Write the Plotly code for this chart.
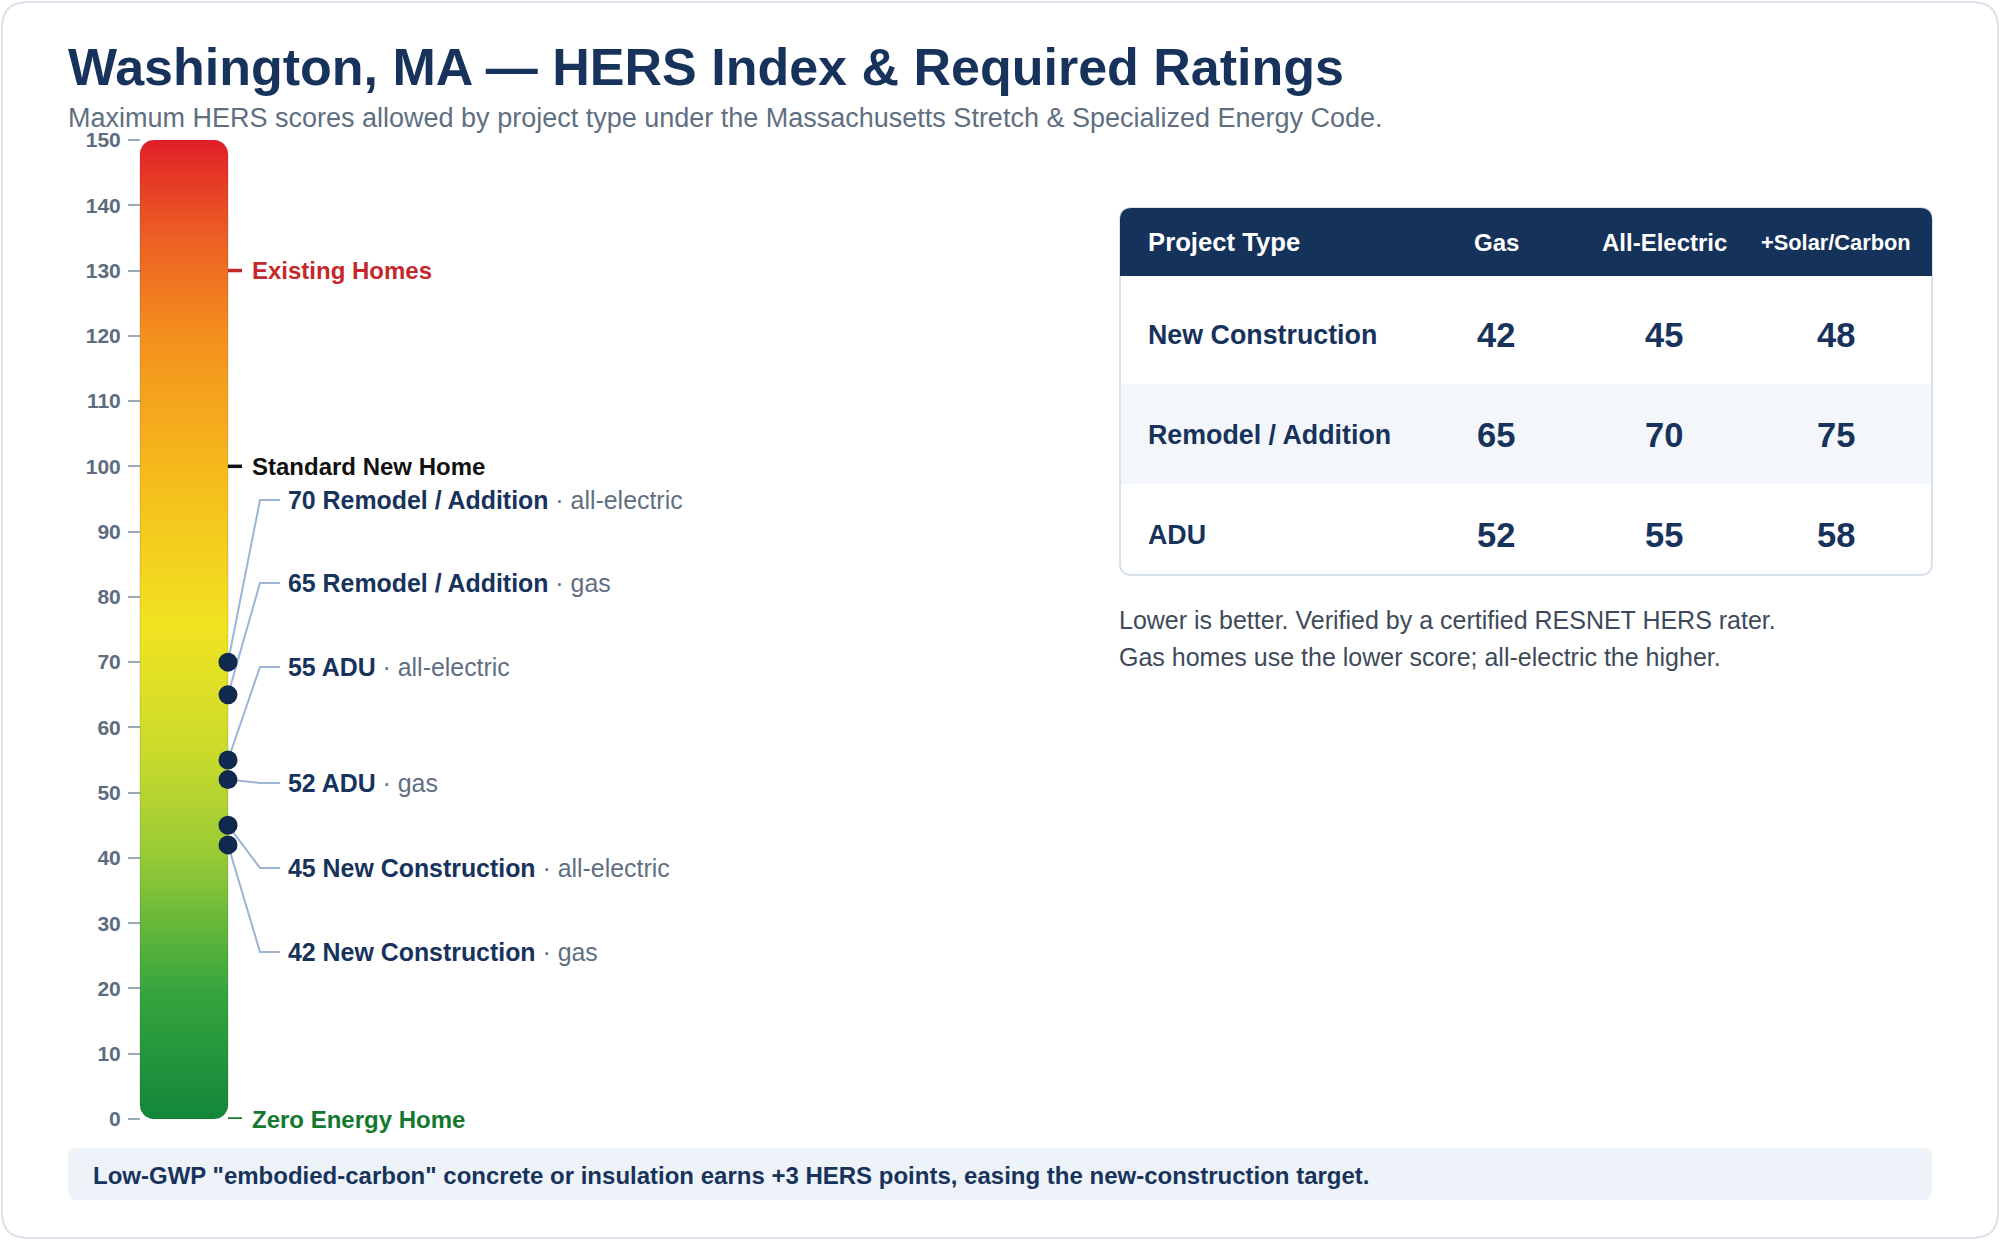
import math
import plotly.graph_objects as go

# ---------------- data ----------------
project_types = ["New Construction", "Remodel / Addition", "ADU"]
gas_scores = [42, 65, 52]
electric_scores = [45, 70, 55]
solar_scores = [48, 75, 58]
table_headers = ["Project Type", "Gas", "All-Electric", "+Solar/Carbon"]

ref_values = [130, 100, 0]
ref_labels = ["Existing Homes", "Standard New Home", "Zero Energy Home"]
ref_colors = ["#C4282C", "#111111", "#14782F"]

scale_min, scale_max, scale_step = 0, 150, 10

title_text = "Washington, MA \u2014 HERS Index & Required Ratings"
subtitle_text = ("Maximum HERS scores allowed by project type under the "
                 "Massachusetts Stretch & Specialized Energy Code.")
note_lines = ["Lower is better. Verified by a certified RESNET HERS rater.",
              "Gas homes use the lower score; all-electric the higher."]
footer_text = ('Low-GWP "embodied-carbon" concrete or insulation earns +3 HERS points, '
               'easing the new-construction target.')

# ---------------- layout constants (pixels) ----------------
W, H = 2000, 1240
FONT = "Liberation Sans, Arial, Helvetica, sans-serif"
NAVY = "#17335C"
HEAD_NAVY = "#15325A"
GRAY = "#5F6F82"
Y_TOP_PX, Y_BOT_PX = 140, 1119
BAR_L, BAR_R = 140, 228
BAR_RADIUS = 14
ELBOW_X, LEAD_END_X, LABEL_X = 260, 280, 286
REF_TEXT_X = 250
# label slots (pixel rows where the callout labels sit, top to bottom)
label_rows_px = [500, 583, 667, 783, 868, 952]

px_per_unit = (Y_BOT_PX - Y_TOP_PX) / (scale_max - scale_min)


def PX(x):
    return x / W


def PY(y):
    return 1 - y / H


def row_to_value(py):
    return scale_min + (Y_BOT_PX - py) / px_per_unit


def rounded_path(x0, y0, x1, y1, r, top_only=False):
    rb = 0 if top_only else r
    pts = [
        f"M {PX(x0 + r)},{PY(y0)}",
        f"L {PX(x1 - r)},{PY(y0)}",
        f"Q {PX(x1)},{PY(y0)} {PX(x1)},{PY(y0 + r)}",
        f"L {PX(x1)},{PY(y1 - rb)}",
        f"Q {PX(x1)},{PY(y1)} {PX(x1 - rb)},{PY(y1)}",
        f"L {PX(x0 + rb)},{PY(y1)}",
        f"Q {PX(x0)},{PY(y1)} {PX(x0)},{PY(y1 - rb)}",
        f"L {PX(x0)},{PY(y0 + r)}",
        f"Q {PX(x0)},{PY(y0)} {PX(x0 + r)},{PY(y0)}",
        "Z",
    ]
    return " ".join(pts)


fig = go.Figure()

# ---------------- gradient scale bar ----------------
ry = BAR_RADIUS / px_per_unit
bx, by = [], []
corners = [
    (BAR_R - BAR_RADIUS, scale_max - ry, 0, 90),
    (BAR_L + BAR_RADIUS, scale_max - ry, 90, 180),
    (BAR_L + BAR_RADIUS, scale_min + ry, 180, 270),
    (BAR_R - BAR_RADIUS, scale_min + ry, 270, 360),
]
for cx, cy, a0, a1 in corners:
    for k in range(11):
        a = math.radians(a0 + (a1 - a0) * k / 10)
        bx.append(cx + BAR_RADIUS * math.cos(a))
        by.append(cy + ry * math.sin(a))
bx.append(bx[0])
by.append(by[0])

fig.add_trace(go.Scatter(
    x=bx, y=by, mode="lines", fill="toself",
    line=dict(color="rgba(0,0,0,0.14)", width=1),
    fillgradient=dict(type="vertical", colorscale=[
        [0.0, "#13873A"], [0.13, "#36A53E"], [0.27, "#98CB36"],
        [0.38, "#CCDB2B"], [0.5, "#F0E321"], [0.65, "#F5BE1B"],
        [0.8, "#F4901E"], [0.9, "#EC6024"], [1.0, "#E11F27"]]),
    hoverinfo="skip", showlegend=False))

# ---------------- callouts ----------------
points = []
for i, pt in enumerate(project_types):
    points.append((gas_scores[i], pt, "gas"))
    points.append((electric_scores[i], pt, "all-electric"))
points.sort(key=lambda p: -p[0])

lx, ly = [], []
for (val, pt, kind), row in zip(points, label_rows_px):
    yv = row_to_value(row)
    lx += [BAR_R, ELBOW_X, LEAD_END_X, None]
    ly += [val, yv, yv, None]
    fig.add_annotation(
        x=LABEL_X, y=yv, xref="x", yref="y", xanchor="left", yanchor="middle",
        showarrow=False,
        text=f"<b>{val} {pt}</b><span style='color:{GRAY}'> \u00b7 {kind}</span>",
        font=dict(family=FONT, size=24.9, color=NAVY))

fig.add_trace(go.Scatter(x=lx, y=ly, mode="lines",
                         line=dict(color="#9DB5D2", width=2),
                         hoverinfo="skip", showlegend=False))
fig.add_trace(go.Scatter(
    x=[BAR_R] * len(points), y=[p[0] for p in points], mode="markers",
    marker=dict(size=19, color="#10294F", line=dict(width=0)),
    hoverinfo="skip", showlegend=False, cliponaxis=False))

# ---------------- reference marks ----------------
for v, lab, c in zip(ref_values, ref_labels, ref_colors):
    fig.add_shape(type="line", xref="x", yref="y", x0=BAR_R, x1=BAR_R + 14,
                  y0=v, y1=v, line=dict(color=c, width=3.5))
    fig.add_annotation(x=REF_TEXT_X, y=v, xref="x", yref="y", xanchor="left",
                       yanchor="middle", showarrow=False, text=f"<b>{lab}</b>",
                       font=dict(family=FONT, size=24, color=c))

# ---------------- card, title ----------------
fig.add_shape(type="path", xref="paper", yref="paper", layer="below",
              path=rounded_path(2, 2, 1998, 1238, 26),
              line=dict(color="#DCE3EB", width=2), fillcolor="white")

fig.add_annotation(x=PX(66), y=PY(67), xref="paper", yref="paper", xanchor="left",
                   yanchor="middle", showarrow=False, text=f"<b>{title_text}</b>",
                   font=dict(family=FONT, size=52, color=NAVY))
fig.add_annotation(x=PX(66), y=PY(118), xref="paper", yref="paper", xanchor="left",
                   yanchor="middle", showarrow=False, text=subtitle_text,
                   font=dict(family=FONT, size=27, color=GRAY))

# ---------------- table ----------------
T_L, T_R, T_TOP, T_HEAD_B, T_BOT = 1120, 1932, 208, 276, 575
row_centers = [335, 435, 535]
shade_top, shade_bot = 384, 484
col_centers = [1496, 1664, 1836]
label_left = 1146

fig.add_shape(type="path", xref="paper", yref="paper", layer="below",
              path=rounded_path(T_L, T_TOP, T_R, T_BOT, 12),
              line=dict(color="#D9E2EC", width=2), fillcolor="white")
fig.add_shape(type="rect", xref="paper", yref="paper", layer="below",
              x0=PX(T_L + 1), x1=PX(T_R - 1), y0=PY(shade_bot), y1=PY(shade_top),
              line=dict(width=0), fillcolor="#F3F7FB")
fig.add_shape(type="path", xref="paper", yref="paper", layer="below",
              path=rounded_path(T_L, T_TOP, T_R, T_HEAD_B, 12, top_only=True),
              line=dict(width=0), fillcolor=HEAD_NAVY)

head_y = (T_TOP + T_HEAD_B) / 2
fig.add_annotation(x=PX(label_left), y=PY(head_y), xref="paper", yref="paper",
                   xanchor="left", yanchor="middle", showarrow=False,
                   text=f"<b>{table_headers[0]}</b>",
                   font=dict(family=FONT, size=25.7, color="white"))
head_sizes = [24, 24, 21.8]
for h, cxp, fs in zip(table_headers[1:], col_centers, head_sizes):
    fig.add_annotation(x=PX(cxp), y=PY(head_y), xref="paper", yref="paper",
                       xanchor="center", yanchor="middle", showarrow=False,
                       text=f"<b>{h}</b>", font=dict(family=FONT, size=fs, color="white"))

for i, pt in enumerate(project_types):
    yc = row_centers[i]
    fig.add_annotation(x=PX(label_left), y=PY(yc), xref="paper", yref="paper",
                       xanchor="left", yanchor="middle", showarrow=False,
                       text=f"<b>{pt}</b>", font=dict(family=FONT, size=26.8, color=NAVY))
    for val, cxp in zip([gas_scores[i], electric_scores[i], solar_scores[i]], col_centers):
        fig.add_annotation(x=PX(cxp), y=PY(yc), xref="paper", yref="paper",
                           xanchor="center", yanchor="middle", showarrow=False,
                           text=f"<b>{val}</b>", font=dict(family=FONT, size=34.5, color=NAVY))

for j, line in enumerate(note_lines):
    fig.add_annotation(x=PX(1117), y=PY(620 + 37 * j), xref="paper", yref="paper",
                       xanchor="left", yanchor="middle", showarrow=False, text=line,
                       font=dict(family=FONT, size=25, color="#3E4A59"))

# ---------------- footer ----------------
fig.add_shape(type="path", xref="paper", yref="paper", layer="below",
              path=rounded_path(68, 1148, 1932, 1200, 10),
              line=dict(width=0), fillcolor="#EEF3F9")
fig.add_annotation(x=PX(91), y=PY(1175), xref="paper", yref="paper", xanchor="left",
                   yanchor="middle", showarrow=False, text=f"<b>{footer_text}</b>",
                   font=dict(family=FONT, size=24, color=NAVY))

# ---------------- axes ----------------
fig.update_layout(
    width=W, height=H,
    margin=dict(l=0, r=0, t=0, b=0, pad=0, autoexpand=False),
    paper_bgcolor="white", plot_bgcolor="rgba(0,0,0,0)",
    showlegend=False,
    xaxis=dict(range=[0, W], domain=[0, 1], visible=False, fixedrange=True,
               automargin=False),
    yaxis=dict(range=[scale_min, scale_max],
               domain=[PY(Y_BOT_PX), PY(Y_TOP_PX)],
               anchor="free", position=PX(BAR_L), automargin=False,
               tickvals=list(range(scale_min, scale_max + 1, scale_step)),
               ticks="outside", ticklen=12, tickwidth=2, tickcolor="#9AA8B8",
               ticklabelstandoff=3,
               tickfont=dict(family=FONT, size=21, color="#5D6C7E", weight="bold"),
               showgrid=False, zeroline=False, showline=False, fixedrange=True),
)

fig.write_html(
    "out.html",
    config={"displayModeBar": False},
    post_script=(
        "document.documentElement.style.margin='0';"
        "document.documentElement.style.overflow='hidden';"
        "document.body.style.margin='0';"
        "document.body.style.overflow='hidden';"
        "var gd=document.getElementsByClassName('plotly-graph-div')[0];"
        "gd.style.position='fixed';gd.style.top='0px';gd.style.left='0px';"
    ),
)
